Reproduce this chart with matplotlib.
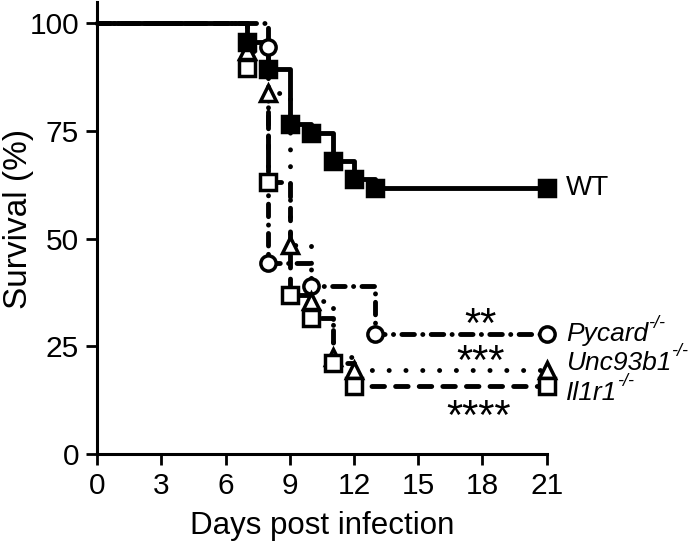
import matplotlib
matplotlib.use("Agg")
import matplotlib.pyplot as plt

plt.rcParams['font.family'] = ['Liberation Sans', 'DejaVu Sans']
plt.rcParams['lines.scale_dashes'] = False

# Kaplan-Meier steps (day, survival %)
wt_days = [0, 7, 8, 9, 10, 11, 12, 13, 21]
wt_surv = [100, 95.7, 89.4, 76.6, 74.5, 68.1, 63.8, 61.7, 61.7]

pycard_days = [0, 8, 8, 10, 13, 21]
pycard_surv = [100, 94.4, 44.4, 38.9, 27.8, 27.8]

unc_days = [0, 7, 8, 9, 10, 11, 12, 21]
unc_surv = [100, 93.5, 83.9, 48.4, 35.5, 22.6, 19.4, 19.4]

il1r1_days = [0, 7, 8, 9, 10, 11, 12, 21]
il1r1_surv = [100, 89.5, 63.2, 36.8, 31.6, 21.1, 15.8, 15.8]

x_ticks = [0, 3, 6, 9, 12, 15, 18, 21]
y_ticks = [0, 25, 50, 75, 100]

fig = plt.figure(figsize=(7, 5.49), dpi=100)
ax = fig.add_axes([0.1386, 0.173, 0.6424, 0.824])

series = [
    (pycard_days, pycard_surv, dict(dashes=(9, 6, 0.1, 6)), 'o', 'white'),
    (unc_days, unc_surv, dict(dashes=(0.1, 12)), '^', 'white'),
    (il1r1_days, il1r1_surv, dict(dashes=(9, 8)), 's', 'white'),
    (wt_days, wt_surv, dict(ls='-'), 's', 'black'),
]

for days, surv, style, mk, fc in series:
    ax.step(days, surv, where='post', color='black', lw=3.5,
            solid_capstyle='round', dash_capstyle='round', clip_on=False, **style)
    ax.plot(days[1:], surv[1:], ls='none', marker=mk, ms=11,
            mfc=fc, mec='black', mew=2.5, clip_on=False, zorder=3)

# labels at the ends of the curves
ax.text(21.9, wt_surv[-1], 'WT', fontsize=20, va='center', ha='left')
for name, y in [('Pycard', pycard_surv[-1]),
                ('Unc93b1', unc_surv[-1] + 1.8),
                ('Il1r1', il1r1_surv[-1] - 1.6)]:
    t = ax.text(21.9, y, name, fontsize=19, style='italic', va='center', ha='left')
    ax.annotate('-/-', xy=(1.0, 0.6), xycoords=t, fontsize=13, style='italic',
                ha='left', va='bottom')

# significance stars
ax.text(17.9, 27.1, '**', fontsize=30, ha='center', va='baseline')
ax.text(17.9, 18.6, '***', fontsize=30, ha='center', va='baseline')
ax.text(17.8, 5.8, '****', fontsize=30, ha='center', va='baseline')

ax.set_xlim(0, 21)
ax.set_ylim(0, 105)
ax.set_xticks(x_ticks)
ax.set_yticks(y_ticks)
ax.tick_params(labelsize=21.5, width=2, length=8, direction='out', pad=5)
ax.spines['top'].set_visible(False)
ax.spines['right'].set_visible(False)
ax.spines['left'].set_linewidth(2.2)
ax.spines['bottom'].set_linewidth(2.2)
ax.set_xlabel('Days post infection', fontsize=22.5, labelpad=8)
ax.set_ylabel('Survival (%)', fontsize=24)
ax.yaxis.set_label_coords(-0.14, 0.52)

fig.savefig('out.png', dpi=100)
